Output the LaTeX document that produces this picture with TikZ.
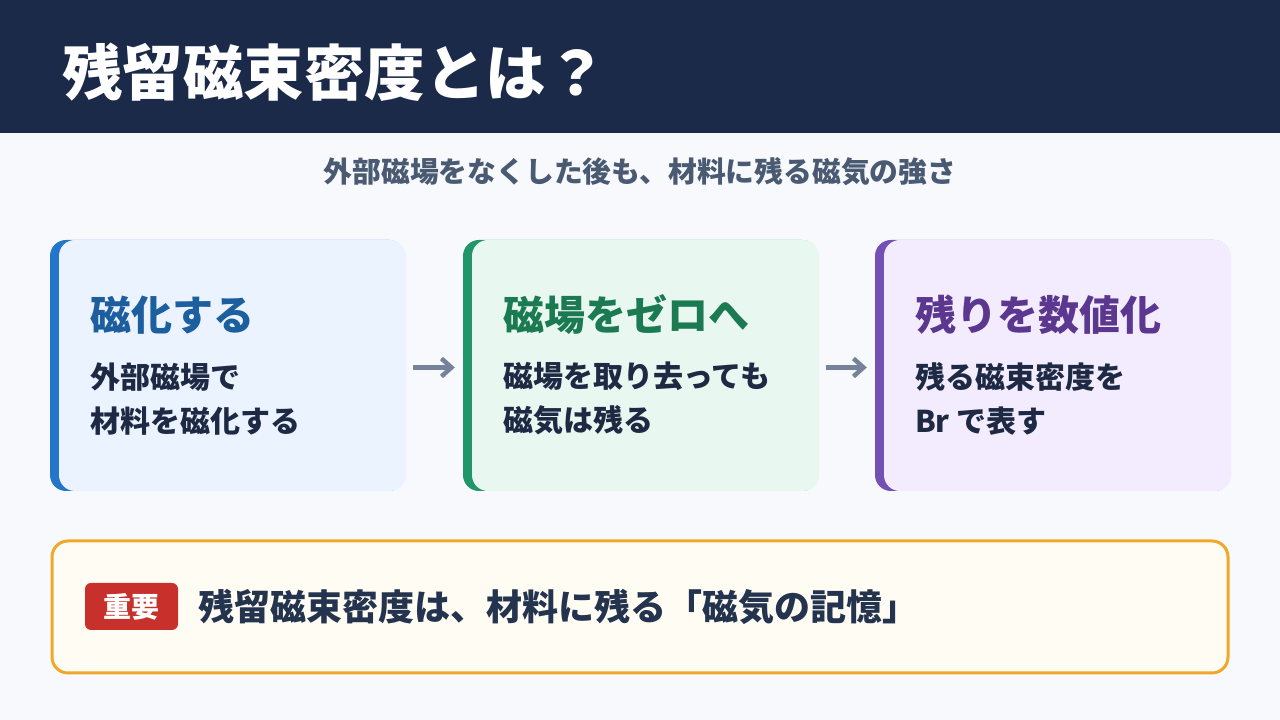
\documentclass[tikz,border=0pt]{standalone}
\usepackage{fontspec}
\setmainfont{Noto Sans CJK JP}
\usetikzlibrary{arrows.meta,positioning}

\definecolor{pagebg}{HTML}{F7F9FC}
\definecolor{navy}{HTML}{1C2A4A}
\definecolor{subgray}{HTML}{4A5A72}
\definecolor{bodytext}{HTML}{1E2A44}
\definecolor{arrowgray}{HTML}{75839A}
\definecolor{bluebar}{HTML}{2477C8}
\definecolor{bluebg}{HTML}{EAF3FF}
\definecolor{bluetitle}{HTML}{1C5E9E}
\definecolor{greenbar}{HTML}{21966B}
\definecolor{greenbg}{HTML}{E8F7F0}
\definecolor{greentitle}{HTML}{1B7A52}
\definecolor{purplebar}{HTML}{7450B5}
\definecolor{purplebg}{HTML}{F2ECFE}
\definecolor{purpletitle}{HTML}{5C3790}
\definecolor{noteorange}{HTML}{F0A72A}
\definecolor{notebg}{HTML}{FFFCF4}
\definecolor{badgered}{HTML}{C8302B}
\definecolor{notetext}{HTML}{24344E}

\tikzset{
  card/.style={rounded corners=16pt, minimum height=251pt, inner sep=0pt},
  cardfill/.style={card, minimum width=347pt, anchor=east, xshift=1pt},
  cardtitle/.style={anchor=west, inner sep=0pt, font=\fontsize{41}{48}\selectfont\bfseries},
  cardbody/.style={anchor=west, inner sep=0pt, align=left, text=bodytext, font=\fontsize{30}{44}\selectfont\bfseries},
  flow/.style={-{Straight Barb[length=10pt,width=18pt]}, line width=4.5pt, draw=arrowgray},
}

\begin{document}
\begin{tikzpicture}[x=1pt,y=1pt]
    \useasboundingbox (0,0) rectangle (1280,720);
    \fill[pagebg] (0,0) rectangle (1280,720);
    \fill[navy] (0,587) rectangle (1280,720);
    \node[anchor=west, inner sep=0pt, text=white, font=\fontsize{60.5}{66}\selectfont\bfseries] (title) at (62,648) {残留磁束密度とは？};
    \node[text=subgray, font=\fontsize{28.8}{32}\selectfont\bfseries] (sub) at (640,548) {外部磁場をなくした後も、材料に残る磁気の強さ};

    % three steps
    \node[card, fill=bluebar, minimum width=355pt] (s1) at (227.5,354.5) {};
    \node[cardfill, fill=bluebg] at (s1.east) {};
    \node[cardtitle, text=bluetitle] (s1title) at ([xshift=40pt,yshift=-75pt]s1.north west) {磁化する};
    \node[cardbody] (s1body) at ([xshift=40pt,yshift=-159pt]s1.north west) {外部磁場で\\材料を磁化する};

    \node[card, fill=greenbar, minimum width=355pt] (s2) at (640.5,354.5) {};
    \node[cardfill, fill=greenbg] at (s2.east) {};
    \node[cardtitle, text=greentitle] (s2title) at ([xshift=40pt,yshift=-75pt]s2.north west) {磁場をゼロへ};
    \node[cardbody] (s2body) at ([xshift=40pt,yshift=-159pt]s2.north west) {磁場を取り去っても\\磁気は残る};

    \node[card, fill=purplebar, minimum width=355pt] (s3) at (1052.5,354.5) {};
    \node[cardfill, fill=purplebg] at (s3.east) {};
    \node[cardtitle, text=purpletitle] (s3title) at ([xshift=40pt,yshift=-75pt]s3.north west) {残りを数値化};
    \node[cardbody] (s3body) at ([xshift=40pt,yshift=-159pt]s3.north west) {残る磁束密度を\\Br で表す};

    \draw[flow] ([xshift=8pt,yshift=-2pt]s1.east) -- ([xshift=-8pt,yshift=-2pt]s2.west);
    \draw[flow] ([xshift=8pt,yshift=-2pt]s2.east) -- ([xshift=-8pt,yshift=-2pt]s3.west);

    % key point
    \node[draw=noteorange, line width=3pt, fill=notebg, rounded corners=16pt, minimum width=1176pt, minimum height=132pt] (note) at (640,113) {};
    \node[fill=badgered, rounded corners=6pt, minimum width=93pt, minimum height=47pt, inner sep=0pt, text=white, font=\fontsize{28}{32}\selectfont\bfseries] (badge) at (131.5,113.5) {重要};
    \node[anchor=west, inner sep=0pt, text=notetext, font=\fontsize{36}{42}\selectfont\bfseries] (keytext) at ([xshift=20pt]badge.east) {残留磁束密度は、材料に残る「磁気の記憶」};
\end{tikzpicture}
\end{document}
